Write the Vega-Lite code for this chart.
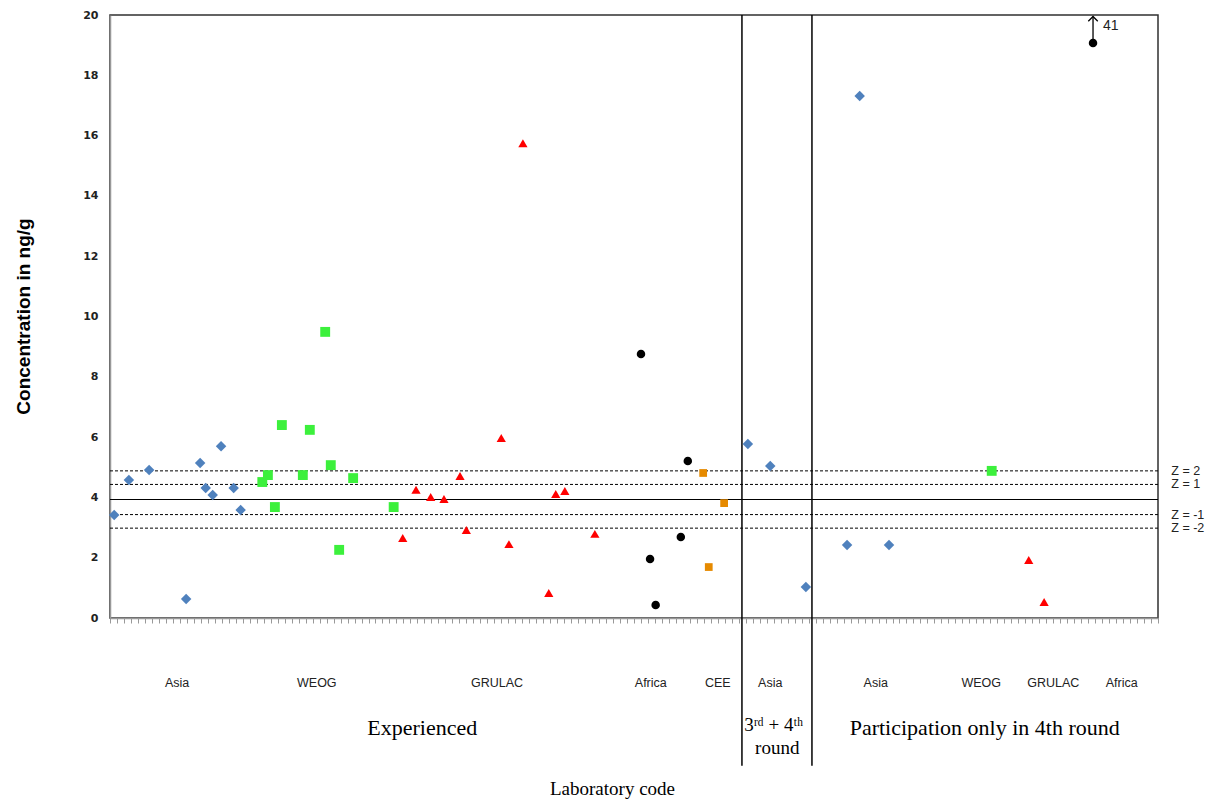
{
  "$schema": "https://vega.github.io/schema/vega-lite/v6.json",
  "width": 1048,
  "height": 603,
  "autosize": {"type": "none"},
  "padding": {"left": 110, "top": 15, "right": 57, "bottom": 183},
  "background": "white",
  "config": {"view": {"stroke": "#303030", "strokeWidth": 1.5}},
  "datasets": {
    "pts": [
      {"lab": 0.6, "conc": 3.42, "group": "Asia"},
      {"lab": 2.7, "conc": 4.58, "group": "Asia"},
      {"lab": 5.6, "conc": 4.91, "group": "Asia"},
      {"lab": 10.9, "conc": 0.63, "group": "Asia"},
      {"lab": 12.9, "conc": 5.14, "group": "Asia"},
      {"lab": 13.7, "conc": 4.31, "group": "Asia"},
      {"lab": 14.7, "conc": 4.08, "group": "Asia"},
      {"lab": 15.9, "conc": 5.70, "group": "Asia"},
      {"lab": 17.7, "conc": 4.31, "group": "Asia"},
      {"lab": 18.7, "conc": 3.58, "group": "Asia"},
      {"lab": 21.8, "conc": 4.51, "group": "WEOG"},
      {"lab": 22.6, "conc": 4.74, "group": "WEOG"},
      {"lab": 23.6, "conc": 3.68, "group": "WEOG"},
      {"lab": 24.6, "conc": 6.40, "group": "WEOG"},
      {"lab": 27.6, "conc": 4.74, "group": "WEOG"},
      {"lab": 28.6, "conc": 6.24, "group": "WEOG"},
      {"lab": 30.8, "conc": 9.49, "group": "WEOG"},
      {"lab": 31.6, "conc": 5.07, "group": "WEOG"},
      {"lab": 32.8, "conc": 2.26, "group": "WEOG"},
      {"lab": 34.8, "conc": 4.64, "group": "WEOG"},
      {"lab": 40.6, "conc": 3.68, "group": "WEOG"},
      {"lab": 41.9, "conc": 2.65, "group": "GRULAC"},
      {"lab": 43.8, "conc": 4.25, "group": "GRULAC"},
      {"lab": 45.9, "conc": 4.01, "group": "GRULAC"},
      {"lab": 47.8, "conc": 3.95, "group": "GRULAC"},
      {"lab": 50.1, "conc": 4.71, "group": "GRULAC"},
      {"lab": 51.0, "conc": 2.92, "group": "GRULAC"},
      {"lab": 56.0, "conc": 5.97, "group": "GRULAC"},
      {"lab": 57.1, "conc": 2.45, "group": "GRULAC"},
      {"lab": 59.1, "conc": 15.75, "group": "GRULAC"},
      {"lab": 62.8, "conc": 0.83, "group": "GRULAC"},
      {"lab": 63.8, "conc": 4.11, "group": "GRULAC"},
      {"lab": 65.1, "conc": 4.21, "group": "GRULAC"},
      {"lab": 69.4, "conc": 2.79, "group": "GRULAC"},
      {"lab": 76.0, "conc": 8.76, "group": "Africa"},
      {"lab": 77.3, "conc": 1.96, "group": "Africa"},
      {"lab": 78.1, "conc": 0.43, "group": "Africa"},
      {"lab": 81.7, "conc": 2.69, "group": "Africa"},
      {"lab": 82.7, "conc": 5.21, "group": "Africa"},
      {"lab": 84.9, "conc": 4.81, "group": "CEE"},
      {"lab": 85.7, "conc": 1.69, "group": "CEE"},
      {"lab": 87.9, "conc": 3.81, "group": "CEE"},
      {"lab": 91.3, "conc": 5.77, "group": "Asia"},
      {"lab": 94.5, "conc": 5.04, "group": "Asia"},
      {"lab": 99.6, "conc": 1.03, "group": "Asia"},
      {"lab": 105.5, "conc": 2.42, "group": "Asia"},
      {"lab": 107.3, "conc": 17.31, "group": "Asia"},
      {"lab": 111.5, "conc": 2.42, "group": "Asia"},
      {"lab": 126.2, "conc": 4.88, "group": "WEOG"},
      {"lab": 131.5, "conc": 1.92, "group": "GRULAC"},
      {"lab": 133.7, "conc": 0.53, "group": "GRULAC"},
      {"lab": 140.7, "conc": 19.07, "group": "Africa"}
    ],
    "zlines": [
      {"z": "Z = 2", "conc": 4.88},
      {"z": "Z = 1", "conc": 4.43},
      {"z": "Z = -1", "conc": 3.43},
      {"z": "Z = -2", "conc": 2.98}
    ],
    "assigned": [{"conc": 3.93}],
    "dividers": [{"lab": 90.45}, {"lab": 100.47}],
    "regions": [
      {"name": "Asia", "lab": 9.6},
      {"name": "WEOG", "lab": 29.6},
      {"name": "GRULAC", "lab": 55.4},
      {"name": "Africa", "lab": 77.4},
      {"name": "CEE", "lab": 87.0},
      {"name": "Asia", "lab": 94.5},
      {"name": "Asia", "lab": 109.6},
      {"name": "WEOG", "lab": 124.7},
      {"name": "GRULAC", "lab": 135.0},
      {"name": "Africa", "lab": 144.8}
    ],
    "bigsections": [
      {"name": "Experienced", "lab": 44.7, "conc": -3.65},
      {"name": "Participation  only in 4th round", "lab": 125.2, "conc": -3.65}
    ],
    "smallsections": [
      {"name": "3ʳᵈ + 4ᵗʰ", "lab": 95.0, "conc": -3.55},
      {"name": "round", "lab": 95.5, "conc": -4.31}
    ],
    "outlier": [{"lab": 140.7, "conc": 19.07, "top": 19.95, "actual": "41"}]
  },
  "layer": [
    {
      "data": {"name": "zlines"},
      "mark": {"type": "rule", "color": "black", "strokeWidth": 1, "strokeDash": [3, 2]},
      "encoding": {
        "y": {
          "field": "conc", "type": "quantitative",
          "scale": {"domain": [0, 20], "nice": false, "zero": false},
          "axis": {
            "values": [0, 2, 4, 6, 8, 10, 12, 14, 16, 18, 20],
            "title": "Concentration in ng/g",
            "titleFont": "Liberation Sans", "titleFontSize": 19, "titleFontWeight": "bold",
            "titleColor": "black", "titleX": -87, "titleY": 301, "titleBaseline": "middle",
            "labelFont": "DejaVu Sans", "labelFontSize": 11, "labelFontWeight": "bold",
            "labelColor": "#222", "labelPadding": 12, "ticks": false,
            "domainColor": "#999", "domainWidth": 1.5, "grid": false
          }
        }
      }
    },
    {
      "data": {"name": "zlines"},
      "mark": {"type": "text", "align": "left", "baseline": "middle", "font": "Liberation Sans", "fontSize": 12.5, "color": "#222"},
      "encoding": {
        "x": {"datum": 151.9, "type": "quantitative"},
        "y": {"field": "conc", "type": "quantitative"},
        "text": {"field": "z"}
      }
    },
    {
      "data": {"name": "assigned"},
      "mark": {"type": "rule", "color": "black", "strokeWidth": 1.2},
      "encoding": {"y": {"field": "conc", "type": "quantitative"}}
    },
    {
      "data": {"name": "dividers"},
      "mark": {"type": "rule", "color": "black", "strokeWidth": 1.5},
      "encoding": {
        "x": {"field": "lab", "type": "quantitative"},
        "y": {"datum": 20, "type": "quantitative"},
        "y2": {"datum": -4.9}
      }
    },
    {
      "data": {"name": "pts"},
      "mark": {"type": "point", "filled": true, "opacity": 1},
      "encoding": {
        "x": {
          "field": "lab", "type": "quantitative",
          "scale": {"domain": [0, 150], "nice": false, "zero": false},
          "axis": {
            "tickCount": 150, "labels": false, "tickSize": 5, "tickColor": "#999",
            "domainColor": "#999", "domainWidth": 1.5, "grid": false,
            "title": "Laboratory code", "titleFont": "Liberation Serif", "titleFontSize": 19,
            "titleFontWeight": "normal", "titleColor": "black",
            "titleX": 502, "titleY": 170, "titleBaseline": "middle"
          }
        },
        "y": {"field": "conc", "type": "quantitative"},
        "shape": {
          "field": "group", "type": "nominal",
          "scale": {"domain": ["Asia", "WEOG", "GRULAC", "Africa", "CEE"], "range": ["diamond", "square", "triangle-up", "circle", "square"]},
          "legend": null
        },
        "size": {
          "field": "group", "type": "nominal",
          "scale": {"domain": ["Asia", "WEOG", "GRULAC", "Africa", "CEE"], "range": [110, 60, 55, 50, 60]},
          "legend": null
        },
        "color": {
          "field": "group", "type": "nominal",
          "scale": {"domain": ["Asia", "WEOG", "GRULAC", "Africa", "CEE"], "range": ["#4F81BD", "#3CF03C", "#FF0000", "#000000", "#E68A00"]},
          "legend": null
        }
      }
    },
    {
      "data": {"name": "regions"},
      "mark": {"type": "text", "align": "center", "baseline": "middle", "font": "Liberation Sans", "fontSize": 12.5, "color": "#222"},
      "encoding": {
        "x": {"field": "lab", "type": "quantitative"},
        "y": {"datum": -2.16, "type": "quantitative"},
        "text": {"field": "name"}
      }
    },
    {
      "data": {"name": "bigsections"},
      "mark": {"type": "text", "align": "center", "baseline": "middle", "font": "Liberation Serif", "fontSize": 22, "color": "black"},
      "encoding": {
        "x": {"field": "lab", "type": "quantitative"},
        "y": {"field": "conc", "type": "quantitative"},
        "text": {"field": "name"}
      }
    },
    {
      "data": {"name": "smallsections"},
      "mark": {"type": "text", "align": "center", "baseline": "middle", "font": "Liberation Serif", "fontSize": 19, "color": "black"},
      "encoding": {
        "x": {"field": "lab", "type": "quantitative"},
        "y": {"field": "conc", "type": "quantitative"},
        "text": {"field": "name"}
      }
    },
    {
      "data": {"name": "outlier"},
      "mark": {"type": "rule", "color": "black", "strokeWidth": 1.3},
      "encoding": {
        "x": {"field": "lab", "type": "quantitative"},
        "y": {"field": "conc", "type": "quantitative"},
        "y2": {"field": "top"}
      }
    },
    {
      "data": {"name": "outlier"},
      "mark": {"type": "point", "shape": "M-1,1L0,0L1,1", "filled": false, "stroke": "black", "strokeWidth": 1.3, "size": 90, "opacity": 1},
      "encoding": {
        "x": {"field": "lab", "type": "quantitative"},
        "y": {"field": "top", "type": "quantitative"}
      }
    },
    {
      "data": {"name": "outlier"},
      "mark": {"type": "text", "align": "left", "baseline": "middle", "dx": 10, "dy": -17, "font": "Liberation Sans", "fontSize": 14, "color": "#222"},
      "encoding": {
        "x": {"field": "lab", "type": "quantitative"},
        "y": {"field": "conc", "type": "quantitative"},
        "text": {"field": "actual"}
      }
    }
  ]
}
